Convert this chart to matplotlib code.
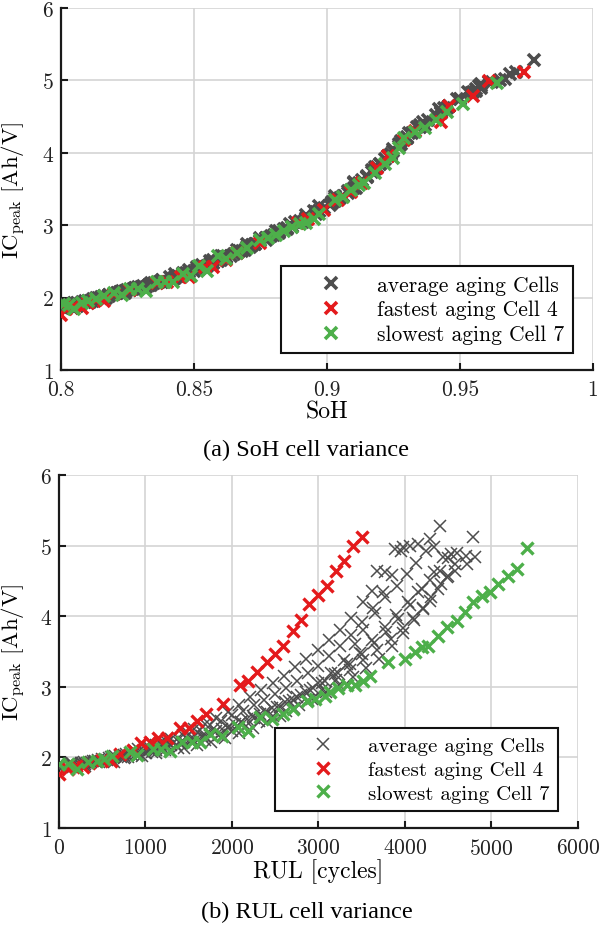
import numpy as np
import matplotlib
matplotlib.use("Agg")
from matplotlib import pyplot as plt

# ---- data: every cell gives (RUL, SoH, IC peak) per check-up ----
# fastest aging cell 4
red_rul = [0, 100, 200, 280, 350, 500, 600, 700, 850, 950, 1050, 1150, 1250, 1400, 1500, 1600, 1700,
           1900, 2090, 2185, 2290, 2400, 2500, 2590, 2700, 2800, 2890, 2990, 3100, 3200, 3300, 3400, 3500]
red_ic = [1.76, 1.84, 1.88, 1.86, 1.92, 1.97, 1.95, 2.05, 2.10, 2.20, 2.22, 2.28, 2.28, 2.42, 2.42, 2.52, 2.61,
          2.76, 3.03, 3.08, 3.21, 3.35, 3.46, 3.58, 3.79, 3.95, 4.17, 4.30, 4.43, 4.64, 4.78, 4.99, 5.12]
red_soh = [0.800, 0.802, 0.805, 0.808, 0.810, 0.813, 0.816, 0.820, 0.826, 0.836, 0.840, 0.845, 0.848, 0.854, 0.857, 0.862, 0.866,
           0.875, 0.889, 0.893, 0.899, 0.904, 0.909, 0.913, 0.919, 0.923, 0.929, 0.933, 0.943, 0.946, 0.955, 0.961, 0.974]

# slowest aging cell 7
green_rul = [0, 100, 208, 330, 440, 520, 610, 820, 900, 1090, 1180, 1280, 1420, 1540, 1630, 1745, 1880,
             2070, 2185, 2324, 2462, 2590, 2705, 2867, 2960, 3075, 3133, 3225, 3329, 3422, 3514, 3595,
             3803, 4000, 4116, 4193, 4266, 4382, 4482, 4598, 4693, 4786, 4887, 4983, 5075, 5191, 5291, 5407]
green_ic = [1.91, 1.90, 1.84, 1.93, 1.95, 1.98, 2.02, 2.07, 2.04, 2.12, 2.12, 2.09, 2.22, 2.22, 2.22, 2.33, 2.30,
            2.43, 2.37, 2.57, 2.54, 2.61, 2.68, 2.80, 2.83, 2.87, 2.92, 2.98, 3.02, 3.03, 3.08, 3.15,
            3.35, 3.39, 3.49, 3.56, 3.58, 3.72, 3.85, 3.93, 4.06, 4.20, 4.29, 4.34, 4.46, 4.57, 4.67, 4.97]
green_soh = [0.801, 0.803, 0.805, 0.808, 0.810, 0.813, 0.816, 0.820, 0.823, 0.826, 0.829, 0.832, 0.836, 0.839, 0.842, 0.846, 0.849,
             0.852, 0.855, 0.859, 0.862, 0.866, 0.870, 0.875, 0.878, 0.881, 0.884, 0.887, 0.890, 0.892, 0.895, 0.897,
             0.903, 0.906, 0.909, 0.912, 0.914, 0.918, 0.922, 0.925, 0.927, 0.929, 0.933, 0.937, 0.941, 0.945, 0.951, 0.964]

# average aging cells
g1_rul = [0, 130, 260, 390, 520, 650, 780, 910, 1040, 1170, 1300, 1430, 1560, 1690, 1820, 1950, 2080, 2210,
          2340, 2470, 2600, 2730, 2860, 2990, 3120, 3250, 3380, 3520, 3614, 3672, 3770, 3884, 3980, 4058, 4150, 4290]
g1_ic = [1.85, 1.88, 1.92, 1.95, 1.97, 2.02, 2.05, 2.12, 2.15, 2.20, 2.26, 2.32, 2.40, 2.48, 2.56, 2.64, 2.74, 2.85,
         2.95, 3.05, 3.15, 3.28, 3.40, 3.52, 3.66, 3.80, 3.98, 4.20, 4.36, 4.64, 4.62, 4.95, 4.98, 5.00, 5.02, 5.09]
g1_soh = [0.801, 0.803, 0.806, 0.810, 0.812, 0.816, 0.820, 0.827, 0.832, 0.836, 0.842, 0.846, 0.852, 0.857, 0.862, 0.867, 0.873, 0.879,
          0.885, 0.891, 0.896, 0.901, 0.906, 0.911, 0.915, 0.919, 0.924, 0.930, 0.935, 0.946, 0.944, 0.958, 0.962, 0.965, 0.967, 0.969]

g2_rul = [0, 150, 300, 450, 600, 750, 900, 1050, 1200, 1350, 1500, 1650, 1800, 1950, 2100, 2250, 2400,
          2550, 2700, 2850, 3000, 3150, 3300, 3420, 3520, 3650, 3769, 3904, 4020, 4130, 4240, 4330, 4405]
g2_ic = [1.88, 1.92, 1.90, 1.96, 2.00, 1.99, 2.06, 2.10, 2.12, 2.18, 2.24, 2.30, 2.36, 2.42, 2.50, 2.56, 2.64,
         2.72, 2.82, 2.92, 3.05, 3.20, 3.38, 3.60, 3.80, 4.05, 4.27, 4.43, 4.60, 4.75, 4.92, 4.98, 5.28]
g2_soh = [0.800, 0.805, 0.807, 0.811, 0.815, 0.817, 0.821, 0.825, 0.828, 0.834, 0.838, 0.844, 0.848, 0.853, 0.859, 0.862, 0.867,
          0.872, 0.877, 0.882, 0.888, 0.895, 0.903, 0.910, 0.918, 0.925, 0.931, 0.936, 0.942, 0.949, 0.957, 0.961, 0.978]

g3_rul = [0, 140, 290, 430, 580, 720, 870, 1010, 1160, 1300, 1450, 1590, 1740, 1880, 2030, 2170, 2320,
          2460, 2610, 2750, 2900, 3040, 3190, 3330, 3480, 3620, 3770, 3900, 4030, 4150, 4290, 4405, 4497, 4598]
g3_ic = [1.90, 1.86, 1.94, 1.93, 1.99, 2.01, 2.08, 2.06, 2.14, 2.17, 2.22, 2.28, 2.34, 2.40, 2.48, 2.55, 2.62,
         2.70, 2.78, 2.86, 2.96, 3.06, 3.18, 3.32, 3.48, 3.66, 3.85, 4.02, 4.20, 4.35, 4.52, 4.64, 4.83, 4.90]
g3_soh = [0.802, 0.804, 0.808, 0.810, 0.813, 0.816, 0.822, 0.824, 0.830, 0.833, 0.838, 0.843, 0.847, 0.851, 0.857, 0.862, 0.866,
          0.871, 0.875, 0.880, 0.885, 0.890, 0.896, 0.902, 0.909, 0.915, 0.920, 0.925, 0.930, 0.935, 0.941, 0.946, 0.954, 0.958]

g4_rul = [0, 150, 300, 460, 610, 760, 920, 1070, 1230, 1380, 1540, 1690, 1850, 2000, 2160, 2310, 2470, 2620,
          2780, 2930, 3090, 3240, 3400, 3550, 3700, 3850, 3980, 4100, 4210, 4300, 4420, 4500, 4580, 4700, 4786]
g4_ic = [1.86, 1.90, 1.88, 1.94, 1.97, 2.00, 2.03, 2.07, 2.10, 2.14, 2.20, 2.24, 2.32, 2.38, 2.45, 2.52, 2.58, 2.66,
         2.74, 2.83, 2.92, 3.02, 3.14, 3.26, 3.40, 3.58, 3.76, 3.95, 4.12, 4.27, 4.45, 4.57, 4.74, 4.85, 5.12]
g4_soh = [0.801, 0.803, 0.806, 0.809, 0.812, 0.815, 0.818, 0.822, 0.826, 0.829, 0.834, 0.838, 0.843, 0.848, 0.853, 0.857, 0.861, 0.866,
          0.870, 0.875, 0.881, 0.886, 0.892, 0.897, 0.903, 0.910, 0.917, 0.923, 0.928, 0.932, 0.938, 0.943, 0.950, 0.956, 0.971]

g5_rul = [0, 160, 320, 480, 640, 800, 960, 1120, 1280, 1440, 1600, 1760, 1920, 2080, 2240, 2400, 2560,
          2720, 2880, 3040, 3200, 3360, 3520, 3680, 3840, 3980, 4095, 4210, 4290, 4382, 4482, 4580, 4713, 4809]
g5_ic = [1.90, 1.87, 1.92, 1.95, 1.94, 2.00, 2.02, 2.06, 2.09, 2.13, 2.18, 2.22, 2.28, 2.34, 2.42, 2.50, 2.58,
         2.70, 2.82, 2.95, 3.10, 3.24, 3.38, 3.52, 3.68, 3.84, 3.97, 4.10, 4.22, 4.39, 4.55, 4.64, 4.74, 4.84]
g5_soh = [0.802, 0.804, 0.806, 0.809, 0.811, 0.814, 0.818, 0.821, 0.824, 0.828, 0.833, 0.837, 0.841, 0.846, 0.851, 0.856, 0.860,
          0.870, 0.877, 0.884, 0.892, 0.899, 0.905, 0.910, 0.915, 0.920, 0.924, 0.927, 0.930, 0.937, 0.943, 0.946, 0.950, 0.955]

g6_rul = [0, 125, 250, 375, 500, 625, 750, 875, 1000, 1125, 1250, 1375, 1500, 1625, 1750, 1875, 2000,
          2125, 2250, 2375, 2500, 2625, 2750, 2875, 3000, 3125, 3250, 3375, 3500, 3625, 3750, 3850, 3950]
g6_ic = [1.88, 1.91, 1.89, 1.94, 1.98, 2.01, 2.04, 2.09, 2.13, 2.17, 2.22, 2.27, 2.33, 2.39, 2.46, 2.52, 2.60,
         2.66, 2.74, 2.82, 2.90, 2.99, 3.08, 3.19, 3.30, 3.44, 3.58, 3.74, 3.92, 4.12, 4.35, 4.58, 4.92]
g6_soh = [0.801, 0.804, 0.806, 0.809, 0.812, 0.815, 0.818, 0.823, 0.828, 0.833, 0.838, 0.843, 0.847, 0.852, 0.856, 0.860, 0.865,
          0.869, 0.873, 0.878, 0.882, 0.887, 0.892, 0.897, 0.902, 0.908, 0.912, 0.917, 0.922, 0.927, 0.934, 0.943, 0.958]

g7_rul = [0, 140, 280, 420, 560, 700, 840, 980, 1120, 1260, 1400, 1540, 1680, 1820, 1960, 2100, 2240,
          2380, 2520, 2660, 2800, 2940, 3080, 3220, 3360, 3500, 3640, 3780, 3920, 4060, 4200, 4330, 4440, 4530]
g7_ic = [1.87, 1.92, 1.91, 1.95, 1.96, 2.02, 2.04, 2.08, 2.11, 2.16, 2.20, 2.26, 2.31, 2.37, 2.44, 2.50, 2.58,
         2.65, 2.72, 2.80, 2.89, 2.98, 3.08, 3.20, 3.33, 3.47, 3.62, 3.78, 3.96, 4.16, 4.38, 4.62, 4.84, 4.88]
g7_soh = [0.800, 0.805, 0.807, 0.810, 0.812, 0.816, 0.818, 0.822, 0.826, 0.831, 0.835, 0.842, 0.846, 0.850, 0.855, 0.859, 0.864,
          0.868, 0.872, 0.877, 0.882, 0.887, 0.892, 0.897, 0.903, 0.908, 0.913, 0.918, 0.923, 0.928, 0.935, 0.945, 0.953, 0.956]

gray_cells = [(g1_rul, g1_soh, g1_ic), (g2_rul, g2_soh, g2_ic), (g3_rul, g3_soh, g3_ic),
              (g4_rul, g4_soh, g4_ic), (g5_rul, g5_soh, g5_ic), (g6_rul, g6_soh, g6_ic),
              (g7_rul, g7_soh, g7_ic)]

labels = ["average aging Cells", "fastest aging Cell 4", "slowest aging Cell 7"]
c_gray = "#4d4d4d"
c_red = "#e41a1c"
c_green = "#4daf4a"

plt.rcParams["font.family"] = "cmr10"
plt.rcParams["mathtext.fontset"] = "cm"
plt.rcParams["axes.formatter.use_mathtext"] = True

fig = plt.figure(figsize=(6.1, 9.28), dpi=100)
ax1 = fig.add_axes([0.1, 0.6002, 0.872, 0.3901])
ax2 = fig.add_axes([0.0967, 0.1067, 0.8508, 0.3803])

ylab = r"$\mathrm{IC}_{\mathrm{peak}}\ [\mathrm{Ah/V}]$"


def style(ax):
    ax.grid(True, color="#d4d4d4", lw=1.2, zorder=0)
    ax.set_axisbelow(True)
    for s in ["top", "right"]:
        ax.spines[s].set_visible(False)
    for s in ["left", "bottom"]:
        ax.spines[s].set_linewidth(1.6)
        ax.spines[s].set_color("#1a1a1a")
    ax.tick_params(direction="in", length=5, width=1.5, labelsize=15.5, colors="#1a1a1a",
                   labelcolor="#222222")
    ax.tick_params(axis="x", pad=7)
    ax.tick_params(axis="y", pad=5)
    ax.set_ylim(1, 6)
    ax.set_yticks([1, 2, 3, 4, 5, 6])


def legend(ax, anchor, fs):
    lg = ax.legend(loc="lower right", bbox_to_anchor=anchor, fontsize=fs, frameon=True,
                   fancybox=False, framealpha=1, edgecolor="#111111", handlelength=3.85,
                   handletextpad=0.22, borderpad=0.4, labelspacing=0.25, borderaxespad=0)
    lg.get_frame().set_linewidth(1.5)


# (a) SoH
for i, (r, s, c) in enumerate(gray_cells):
    ax1.plot(s, c, "x", color=c_gray, ms=8.5, mew=2.6, label=labels[0] if i == 0 else None, zorder=3)
ax1.plot(red_soh, red_ic, "x", color=c_red, ms=8.5, mew=2.6, label=labels[1], zorder=4)
ax1.plot(green_soh, green_ic, "x", color=c_green, ms=8.5, mew=2.6, label=labels[2], zorder=5)
style(ax1)
ax1.set_xlim(0.8, 1.0)
ax1.set_xticks([0.8, 0.85, 0.9, 0.95, 1.0])
ax1.set_xticklabels(["0.8", "0.85", "0.9", "0.95", "1"])
ax1.set_xlabel("SoH", fontsize=17)
ax1.set_ylabel(ylab, fontsize=16.5)
ax1.xaxis.set_label_coords(0.5, -0.085)
ax1.yaxis.set_label_coords(-0.062, 0.5)
legend(ax1, (0.962, 0.047), 15.5)

# (b) RUL
for i, (r, s, c) in enumerate(gray_cells):
    ax2.plot(r, c, "x", color=c_gray, ms=8, mew=1.1, label=labels[0] if i == 0 else None, zorder=3)
ax2.plot(red_rul, red_ic, "x", color=c_red, ms=8, mew=2.4, label=labels[1], zorder=4)
ax2.plot(green_rul, green_ic, "x", color=c_green, ms=8, mew=2.4, label=labels[2], zorder=5)
style(ax2)
ax2.set_xlim(0, 6000)
ax2.set_xticks(np.arange(0, 6001, 1000))
ax2.set_xlabel("RUL [cycles]", fontsize=17)
ax2.set_ylabel(ylab, fontsize=16.5)
ax2.xaxis.set_label_coords(0.5, -0.085)
ax2.yaxis.set_label_coords(-0.06, 0.5)
legend(ax2, (0.961, 0.048), 15.0)

fig.text(0.502, 0.515, "(a) SoH cell variance", ha="center", va="center",
         family="Liberation Serif", fontsize=17.5)
fig.text(0.503, 0.017, "(b) RUL cell variance", ha="center", va="center",
         family="Liberation Serif", fontsize=17.5)

fig.savefig("out.png", dpi=100)
